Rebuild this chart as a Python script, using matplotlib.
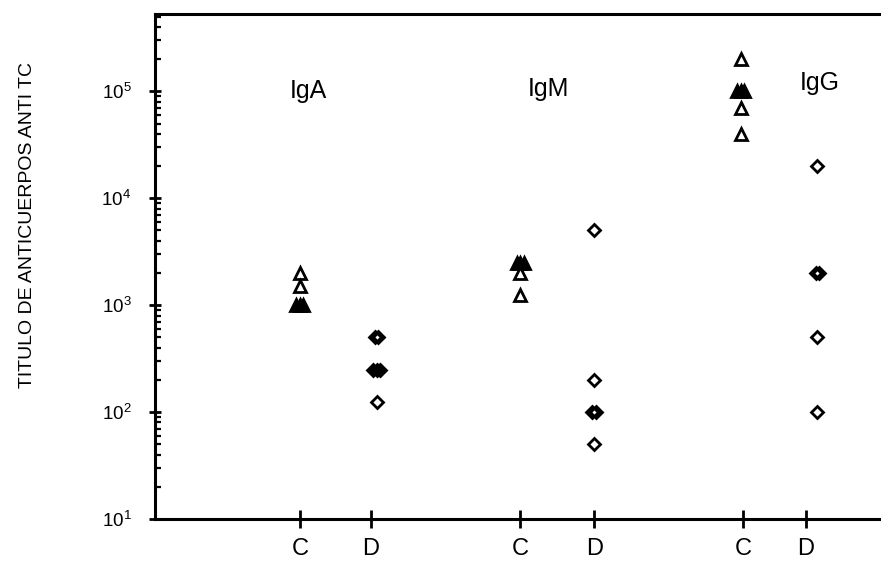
import matplotlib
matplotlib.use("Agg")
import matplotlib.pyplot as plt
from matplotlib.ticker import LogLocator, FixedLocator, NullFormatter

plt.rcParams['font.family'] = ['Liberation Sans', 'DejaVu Sans']
plt.rcParams['mathtext.fontset'] = 'custom'
plt.rcParams['mathtext.rm'] = 'Liberation Sans'
plt.rcParams['mathtext.it'] = 'Liberation Sans'

# ---- data ----
groups = ["IgA", "IgM", "IgG"]
tick_labels = ["C", "D", "C", "D", "C", "D"]

iga_c = [2000, 1500, 1000]
iga_c_n = [1, 1, 3]
iga_d = [500, 250, 125]
iga_d_n = [2, 3, 1]

igm_c = [2500, 2000, 1250]
igm_c_n = [3, 1, 1]
igm_d = [5000, 200, 100, 50]
igm_d_n = [1, 1, 2, 1]

igg_c = [200000, 100000, 70000, 40000]
igg_c_n = [1, 3, 1, 1]
igg_d = [20000, 2000, 500, 100]
igg_d_n = [1, 2, 1, 1]

# ---- layout ----
tick_pos = [1.0, 1.49, 2.52, 3.03, 4.06, 4.49]
mark_pos = [1.0, 1.53, 2.52, 3.03, 4.04, 4.57]
label_pos = [(0.93, 1.0e5), (2.57, 1.05e5), (4.45, 1.2e5)]

fig = plt.figure(figsize=(8.81, 5.67), dpi=100)
ax = fig.add_axes([155/881, 48/567, 1 - 155/881 + 0.01, (519-14)/567])
ax.set_yscale('log')
ax.set_ylim(10, 5.3e5)
ax.set_xlim(0, 5.07)

def draw(x, vals, counts, marker, ms):
    for v, n in zip(vals, counts):
        if n == 1:
            ax.plot([x], [v], marker=marker, ms=ms, mfc='white', mec='black',
                    mew=2.0, ls='none', zorder=3)
        else:
            offs = [(-0.012 * (n - 1) + 0.024 * k) for k in range(n)]
            for o in offs:
                ax.plot([x + o], [v], marker=marker, ms=ms, mfc='black', mec='black',
                        mew=2.0, ls='none', zorder=3)
            if n == 2:
                ax.plot([x], [v], marker=marker, ms=ms * 0.35, mfc='white', mec='white',
                        mew=0, ls='none', zorder=4)

draw(mark_pos[0], iga_c, iga_c_n, '^', 8)
draw(mark_pos[1], iga_d, iga_d_n, 'D', 6)
draw(mark_pos[2], igm_c, igm_c_n, '^', 8)
draw(mark_pos[3], igm_d, igm_d_n, 'D', 6)
draw(mark_pos[4], igg_c, igg_c_n, '^', 8)
draw(mark_pos[5], igg_d, igg_d_n, 'D', 6)

for g, (x, y) in zip(groups, label_pos):
    ax.text(x, y, g, fontsize=18, ha='left', va='center')

# spines
for s in ['left', 'bottom', 'top']:
    ax.spines[s].set_linewidth(2.2)
ax.spines['right'].set_visible(False)

# y ticks
ax.yaxis.set_minor_locator(LogLocator(base=10, subs=range(2, 10), numticks=20))
ax.yaxis.set_minor_formatter(NullFormatter())
ax.set_yticks([10, 100, 1000, 1e4, 1e5])
ax.set_yticklabels([r'$10^{1}$', r'$10^{2}$', r'$10^{3}$', r'$10^{4}$', r'$10^{5}$'])
ax.tick_params(axis='y', which='major', direction='inout', length=8, width=2,
               labelsize=13.5, pad=13)
ax.tick_params(axis='y', which='minor', direction='in', length=4, width=1.6)

# x ticks
ax.xaxis.set_major_locator(FixedLocator(tick_pos))
ax.set_xticklabels(tick_labels)
ax.tick_params(axis='x', which='major', direction='inout', length=13, width=2,
               labelsize=17, pad=7)
ax.tick_params(axis='x', which='minor', bottom=False)

fig.text(28/881, 1 - 225/567, 'TITULO DE ANTICUERPOS ANTI TC', rotation=90,
         ha='center', va='center', fontsize=14)

fig.savefig('out.png', dpi=100)
